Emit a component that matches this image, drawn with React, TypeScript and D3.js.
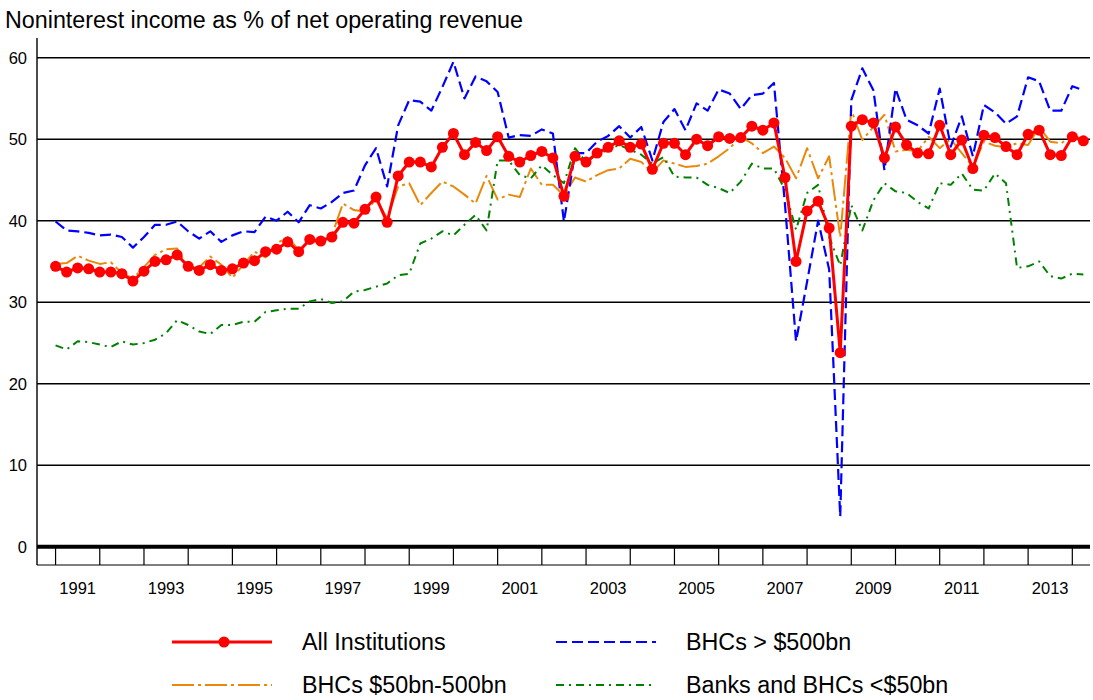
import React from "react";
import * as d3 from "d3";

const title = "Noninterest income as % of net operating revenue";
const firstYear = 1991;
// quarterly observations, 1991 Q1 onwards
const allInstitutions = [
  34.4, 33.7, 34.2, 34.1, 33.7, 33.7, 33.5, 32.6, 33.8, 35.0,
  35.2, 35.8, 34.4, 33.9, 34.6, 33.9, 34.1, 34.8, 35.1, 36.2,
  36.5, 37.4, 36.2, 37.7, 37.5, 38.0, 39.8, 39.7, 41.4, 42.9,
  39.8, 45.5, 47.2, 47.2, 46.6, 49.0, 50.7, 48.1, 49.6, 48.6,
  50.3, 47.9, 47.2, 48.0, 48.5, 47.7, 43.0, 47.9, 47.2, 48.3,
  49.0, 49.8, 49.0, 49.4, 46.3, 49.5, 49.5, 48.1, 50.0, 49.2,
  50.3, 50.1, 50.2, 51.6, 51.1, 52.0, 45.3, 35.0, 41.2, 42.4,
  39.1, 23.8, 51.6, 52.4, 52.0, 47.7, 51.5, 49.3, 48.3, 48.2,
  51.7, 48.1, 49.9, 46.4, 50.5, 50.2, 49.1, 48.1, 50.6, 51.1,
  48.1, 48.0, 50.3, 49.8,
];
const bhcsOver500 = [
  39.9, 38.8, 38.7, 38.5, 38.2, 38.3, 38.0, 36.7, 38.0, 39.5,
  39.5, 39.9, 38.7, 37.8, 38.7, 37.4, 38.2, 38.7, 38.6, 40.5,
  40.0, 41.1, 39.8, 41.9, 41.5, 42.3, 43.4, 43.7, 46.8, 48.9,
  44.2, 51.7, 54.8, 54.6, 53.5, 56.4, 59.5, 55.0, 57.7, 57.1,
  55.8, 50.2, 50.5, 50.4, 51.2, 50.7, 39.9, 48.3, 48.3, 49.7,
  50.4, 51.6, 50.2, 51.5, 47.4, 52.1, 53.7, 51.1, 54.4, 53.5,
  56.1, 55.6, 53.7, 55.4, 55.6, 56.9, 42.0, 25.2, 32.5, 40.0,
  34.0, 3.7, 54.8, 58.7, 56.0, 46.2, 56.2, 52.4, 51.7, 50.7,
  56.2, 49.1, 52.8, 47.9, 54.2, 53.3, 51.9, 52.8, 57.6, 57.1,
  53.5, 53.5, 56.5, 56.0,
];
const bhcs50to500 = [
  34.7, 34.8, 35.7, 35.1, 34.7, 34.9, 33.6, 32.9, 34.3, 35.8,
  36.5, 36.6, 34.2, 34.3, 35.6, 34.6, 33.0, 34.6, 36.2, 35.5,
  37.2, 38.0, 36.4, 37.4, 37.4, 38.2, 42.1, 41.3, 41.1, 42.6,
  40.3, 44.2, 44.6, 41.9, 43.4, 44.8, 44.2, 43.2, 42.1, 45.5,
  42.6, 43.2, 42.9, 46.4, 44.4, 44.4, 43.1, 45.3, 44.8, 45.6,
  46.2, 46.4, 47.6, 47.2, 45.9, 47.4, 47.0, 46.6, 46.7, 47.0,
  47.9, 48.9, 50.3, 49.5, 48.3, 49.1, 47.7, 45.2, 48.9, 45.2,
  47.9, 38.0, 53.6, 49.9, 51.5, 53.0, 48.5, 48.7, 48.5, 50.3,
  48.9, 50.0, 48.3, 46.6, 49.7, 49.2, 49.0, 49.5, 49.3, 51.5,
  49.7, 49.5, 50.5, 50.0,
];
const banksUnder50 = [
  24.7, 24.2, 25.2, 25.1, 24.8, 24.5, 25.2, 24.8, 25.0, 25.4,
  26.2, 27.8, 27.2, 26.4, 26.1, 27.2, 27.2, 27.6, 27.6, 28.8,
  29.0, 29.2, 29.2, 30.1, 30.4, 29.9, 30.1, 31.3, 31.5, 31.9,
  32.3, 33.3, 33.5, 37.2, 37.8, 38.7, 38.2, 39.5, 40.7, 38.8,
  47.4, 47.4, 45.6, 45.2, 46.8, 45.6, 44.6, 48.9, 47.2, 48.1,
  48.7, 49.3, 48.7, 48.1, 47.0, 47.8, 45.4, 45.3, 45.3, 44.4,
  44.0, 43.4, 44.8, 47.0, 46.4, 46.4, 43.8, 38.9, 43.4, 44.4,
  38.0, 34.5, 41.9, 38.8, 42.5, 44.6, 43.6, 43.4, 42.3, 41.5,
  44.6, 44.4, 45.8, 43.8, 43.7, 45.8, 44.6, 34.2, 34.4, 35.0,
  33.2, 32.9, 33.5, 33.4,
];
const yTicks = [0, 10, 20, 30, 40, 50, 60];
const yearLabels = [1991, 1993, 1995, 1997, 1999, 2001, 2003, 2005, 2007, 2009, 2011, 2013];
const tickYears = d3.range(1991, 2015);

const seriesDefs = [
  { name: "BHCs $50bn-500bn", values: bhcs50to500, color: "#E8890C", width: 2, dash: "22,4,3,4" },
  { name: "Banks and BHCs <$50bn", values: banksUnder50, color: "#008000", width: 2, dash: "8,5,2,5" },
  { name: "BHCs > $500bn", values: bhcsOver500, color: "#0000FF", width: 2.2, dash: "11,5" },
  { name: "All Institutions", values: allInstitutions, color: "#FF0000", width: 3, dash: null, dots: true },
];

const FONT = "'Liberation Sans', Arial, sans-serif";

export default function App() {
  const left = 37, right = 1090, top = 38, zeroY = 546.7;
  const x = d3.scaleLinear().domain([1990.58, 2014.4]).range([left, right]);
  const y = d3.scaleLinear().domain([0, 60]).range([zeroY, 57.7]);
  const t = (i: number) => firstYear + i / 4;
  const line = d3
    .line<number>()
    .x((_, i) => x(t(i)))
    .y((v) => y(v));

  const bottomY = 565;
  const legendRows = [
    { y: 642, items: [seriesDefs[3], seriesDefs[2]] },
    { y: 685, items: [seriesDefs[0], seriesDefs[1]] },
  ];
  const legendX = [172, 556];

  return (
    <svg
      width={1093}
      height={700}
      style={{ position: "absolute", left: 0, top: 0, background: "#fff" }}
      fontFamily={FONT}
    >
      <rect width={1093} height={700} fill="#fff" />
      <text x={5} y={28} fontSize={23.3} fill="#000">
        {title}
      </text>
      {/* gridlines */}
      {yTicks.filter((v) => v > 0).map((v) => (
        <line key={v} x1={left} x2={right} y1={y(v)} y2={y(v)} stroke="#000" strokeWidth={1.4} />
      ))}
      {yTicks.map((v) => (
        <text key={"l" + v} x={27} y={y(v)} fontSize={16.5} textAnchor="end" dominantBaseline="central" fill="#000">
          {v}
        </text>
      ))}
      {/* axes */}
      <line x1={left} x2={left} y1={top} y2={bottomY} stroke="#000" strokeWidth={1.4} />
      <line x1={left} x2={right} y1={bottomY} y2={bottomY} stroke="#000" strokeWidth={1.2} />
      {tickYears.map((yr) => (
        <line key={yr} x1={x(yr)} x2={x(yr)} y1={zeroY} y2={bottomY} stroke="#000" strokeWidth={1.2} />
      ))}
      {yearLabels.map((yr) => (
        <text key={"x" + yr} x={x(yr + 0.5)} y={588} fontSize={16.5} textAnchor="middle" dominantBaseline="central" fill="#000">
          {yr}
        </text>
      ))}
      {/* series */}
      {seriesDefs.map((s) => (
        <g key={s.name}>
          <path
            d={line(s.values) || ""}
            fill="none"
            stroke={s.color}
            strokeWidth={s.width}
            strokeDasharray={s.dash || undefined}
            strokeLinejoin="round"
          />
          {s.dots &&
            s.values.map((v, i) => <circle key={i} cx={x(t(i))} cy={y(v)} r={5.5} fill={s.color} />)}
        </g>
      ))}
      <line x1={left} x2={right} y1={zeroY} y2={zeroY} stroke="#000" strokeWidth={4} />
      {/* legend */}
      {legendRows.map((row, ri) =>
        row.items.map((s, k) => (
          <g key={ri + "-" + k}>
            <line
              x1={legendX[k]}
              x2={legendX[k] + 100}
              y1={row.y}
              y2={row.y}
              stroke={s.color}
              strokeWidth={s.width}
              strokeDasharray={s.dash || undefined}
            />
            {s.dots && <circle cx={legendX[k] + 52} cy={row.y} r={5.5} fill={s.color} />}
            <text x={legendX[k] + 130} y={row.y} fontSize={23.3} dominantBaseline="central" fill="#000">
              {s.name}
            </text>
          </g>
        ))
      )}
    </svg>
  );
}
